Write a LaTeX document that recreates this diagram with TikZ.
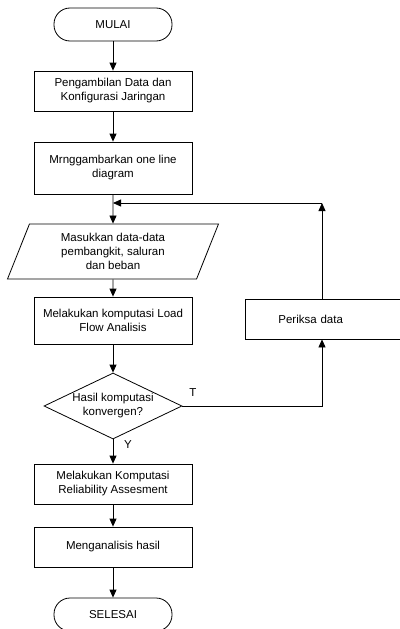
\documentclass[tikz,border=0pt]{standalone}
\usepackage{fontspec}
\setmainfont{Liberation Sans}
\usetikzlibrary{shapes.geometric,arrows.meta}
\begin{document}
\begin{tikzpicture}[x=1pt,y=-1pt,
	every node/.style={font=\fontsize{11.5}{14}\selectfont},
	terminal/.style={draw,rectangle,rounded corners=16pt,minimum width=118pt,minimum height=33pt,line width=0.8pt},
	proses/.style={draw,rectangle,minimum width=158pt,align=center,line width=0.8pt,inner sep=2pt},
	masukan/.style={draw,trapezium,trapezium left angle=63,trapezium right angle=117,trapezium stretches body,minimum width=211pt,minimum height=55pt,align=center,line width=0.8pt},
	keputusan/.style={draw,diamond,aspect=2.1,minimum width=138pt,minimum height=66pt,inner sep=0pt,align=center,line width=0.8pt},
	panah/.style={-{Triangle[length=8pt,width=7pt]},line width=0.8pt}]
		\useasboundingbox (0,0) rectangle (399,629);
		
		\node[terminal] (mulai) at (113,24.5) {MULAI};
		\node[proses,minimum height=40pt] (ambil) at (113,91) {Pengambilan Data dan\\Konfigurasi Jaringan};
		\node[proses,minimum height=52pt] (gambar) at (113,168) {Mrnggambarkan one line\\diagram};
		\node[masukan] (data) at (113,251.5) {Masukkan data-data\\pembangkit, saluran\\dan beban};
		\node[proses,minimum height=47pt] (loadflow) at (113,320.5) {Melakukan komputasi Load\\Flow Analisis};
		\node[keputusan] (konvergen) at (113,406) {Hasil komputasi\\konvergen?};
		\node[proses,minimum height=40pt] (reliabilitas) at (113,484) {Melakukan Komputasi\\Reliability Assesment};
		\node[proses,minimum height=40pt] (analisis) at (113,547) {Menganalisis hasil};
		\node[terminal] (selesai) at (113,614.5) {SELESAI};
		\node[proses,minimum height=40pt,anchor=west,text width=92pt,inner xsep=33pt,align=left] (periksa) at (245,319) {Periksa data};
		
		\coordinate (sudut) at (322,203);
		\coordinate (gabung) at (113,203);
		
		\draw[panah] (mulai) -- (ambil);
		\draw[panah] (ambil) -- (gambar);
		\draw[panah] (gambar) -- (data);
		\draw[panah] (data) -- (loadflow);
		\draw[panah] (loadflow) -- (konvergen);
		\draw[panah] (konvergen) -- (reliabilitas);
		\draw[panah] (reliabilitas) -- (analisis);
		\draw[panah] (analisis) -- (selesai);
		
		% jalur kembali
		\draw[panah] (konvergen.east) -| (sudut |- periksa.south);
		\draw[panah] (sudut |- periksa.north) -- (sudut);
		\draw[panah] (sudut) -- (gabung);
		
		\node (tandaT) at (193,393) {T};
		\node (tandaY) at (128,445) {Y};
	\end{tikzpicture}
\end{document}
